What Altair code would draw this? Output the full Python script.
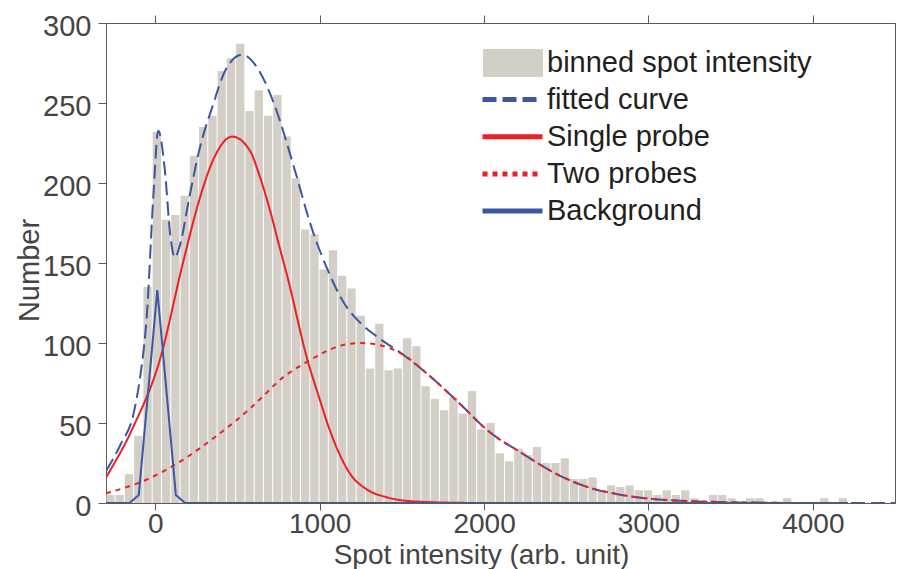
import altair as alt
import pandas as pd

FONT = "Liberation Sans"

# ---- histogram (80 bins) ----
BIN_START = -298.0
BIN_WIDTH = 56.4
counts = [5, 5, 18, 42, 135, 232, 177, 180, 192, 217,
          235, 242, 270, 278, 287, 245, 258, 242, 255, 229,
          203, 171, 168, 146, 158, 142, 134, 117, 84, 112,
          83, 84, 103, 98, 73, 65, 58, 66, 56, 70,
          46, 50, 31, 26, 34, 30, 35, 25, 25, 28,
          15, 15, 16, 8, 11, 10, 11, 8, 8, 5,
          8, 5, 8, 3, 1, 5, 5, 3, 0, 3,
          3, 0, 0, 3, 0, 0, 0, 3, 0, 3]

# ---- curves ----
fit_x = [-300, -212, -132, -92, -52, -12, 18, 58, 92, 118, 148, 208, 268, 348, 428, 528,
         628, 728, 848, 948, 1048, 1148, 1248, 1348, 1508, 1648, 1848, 2028, 2228, 2428,
         2628, 2828, 3028, 3300, 3600, 4000, 4500]
fit_y = [20, 36.4, 56, 79, 116.6, 191.6, 232.7, 208, 166.6, 153.5, 160.4, 191.6, 220.8, 247.9,
         270.8, 280.2, 270.8, 247.9, 208.3, 172.9, 145.8, 125, 112.5, 104, 92.7, 81.3, 62.5,
         44.8, 31.3, 18.8, 10, 5.2, 2.5, 1, 0.3, 0, 0]

single_x = [-300, -132, 28, 168, 268, 358, 468, 578, 628, 708, 748, 808, 928, 988, 1068,
            1188, 1288, 1408, 1546, 1800, 2000, 4214]
single_y = [16, 48, 89.6, 150, 189.6, 215.8, 229, 219.8, 206.4, 179, 163, 139.6, 88.5, 68.7,
            43.7, 17.8, 8.4, 3.6, 1.2, 0.2, 0, 0]

two_x = [-300, -32, 168, 368, 568, 688, 748, 928, 1148, 1248, 1348, 1508, 1648, 1848, 2028,
         2228, 2428, 2628, 2828, 3028, 3300, 3600, 4000, 4214]
two_y = [6, 15.6, 27, 41.6, 58.3, 70, 76, 88.5, 98.9, 100, 99, 92.7, 81.3, 62.5, 44.8,
         31.3, 18.8, 10, 5.2, 2.5, 1, 0.3, 0, 0]

bg_x = [-300, -157, -100.6, 12.2, 125, 181.4, 4214]
bg_y = [0, 0, 5, 133, 5, 0, 0]

bar_name = "binned spot intensity"
bar_color = "#d3cfc7"
line_names = ["fitted curve", "Single probe", "Two probes", "Background"]
line_colors = ["#3a56a5", "#ed1f24", "#ed1f24", "#3a56a5"]
line_dash = [[14, 6], [1, 0], [5, 5], [1, 0]]

x_ticks = [0, 1000, 2000, 3000, 4000]
y_ticks = [0, 50, 100, 150, 200, 250, 300]

# ---- tables ----
bars = pd.DataFrame({
    "start": [BIN_START + i * BIN_WIDTH for i in range(len(counts))],
    "end": [BIN_START + (i + 1) * BIN_WIDTH for i in range(len(counts))],
    "count": counts,
    "kind": bar_name,
})

rows = []
for name, xs, ys in zip(line_names, [fit_x, single_x, two_x, bg_x], [fit_y, single_y, two_y, bg_y]):
    for xv, yv in zip(xs, ys):
        rows.append({"x": xv, "y": yv, "series": name})
lines = pd.DataFrame(rows)
smooth_lines = lines[lines["series"] != "Background"]
bg_line = lines[lines["series"] == "Background"]

xscale = alt.Scale(domain=[-300, 4500], nice=False, zero=False, padding=0)
yscale = alt.Scale(domain=[0, 300], nice=False, zero=True, padding=0)
fill_scale = alt.Scale(domain=[bar_name], range=[bar_color])
color_scale = alt.Scale(domain=line_names, range=line_colors)
dash_scale = alt.Scale(domain=line_names, range=line_dash)

legend_common = dict(
    title=None, orient="none", symbolSize=3600,
    labelFontSize=29, labelFont=FONT, labelColor="#231f20", labelLimit=0,
    padding=0, symbolOpacity=1,
)
bar_legend = alt.Legend(legendX=377, legendY=10, symbolType="M-1,-0.467H1V0.467H-1Z",
                        symbolStrokeWidth=0, rowPadding=0, labelOffset=4, **legend_common)
line_legend = alt.Legend(legendX=374, legendY=62, symbolType="stroke", symbolStrokeWidth=5,
                         clipHeight=29, rowPadding=7.2, labelOffset=2, **legend_common)

axis_common = dict(grid=False, domainColor="#5a5a5a", tickColor="#5a5a5a", domainWidth=1,
                   tickWidth=1, labelFont=FONT, titleFont=FONT, labelColor="#444444",
                   titleColor="#444444", titleFontWeight="normal")

x_bottom = alt.Axis(values=x_ticks, format="d", tickSize=7, labelFontSize=28, labelPadding=0,
                    title="Spot intensity (arb. unit)", titleFontSize=28,
                    titleBaseline="alphabetic", titleY=60.5, titleX=375, **axis_common)
y_left = alt.Axis(values=y_ticks, format="d", tickSize=8, labelFontSize=29, labelPadding=7,
                  labelOffset=3, title="Number", titleFontSize=29, titleBaseline="alphabetic",
                  titleX=-68, titleY=247, **axis_common)
x_top = alt.Axis(orient="top", values=x_ticks, tickSize=8, labels=False, title=None, **axis_common)
y_right = alt.Axis(orient="right", values=y_ticks, tickSize=8, labels=False, title=None, **axis_common)

bar_layer = alt.Chart(bars).mark_bar(x2Offset=-1).encode(
    x=alt.X("start:Q", scale=xscale, axis=x_bottom),
    x2="end:Q",
    y=alt.Y("count:Q", scale=yscale, axis=y_left),
    y2=alt.datum(0),
    fill=alt.Fill("kind:N", scale=fill_scale, legend=bar_legend),
)

smooth_layer = alt.Chart(smooth_lines).mark_line(strokeWidth=2, clip=True, interpolate="monotone").encode(
    x=alt.X("x:Q", scale=xscale, axis=None),
    y=alt.Y("y:Q", scale=yscale, axis=None),
    color=alt.Color("series:N", scale=color_scale, legend=line_legend),
    strokeDash=alt.StrokeDash("series:N", scale=dash_scale, legend=line_legend),
)

bg_layer = alt.Chart(bg_line).mark_line(strokeWidth=2, clip=True).encode(
    x=alt.X("x:Q", scale=xscale, axis=None),
    y=alt.Y("y:Q", scale=yscale, axis=None),
    color=alt.Color("series:N", scale=color_scale, legend=line_legend),
    strokeDash=alt.StrokeDash("series:N", scale=dash_scale, legend=line_legend),
)

frame_layer = alt.Chart(lines).mark_line(opacity=0).encode(
    x=alt.X("x:Q", scale=xscale, axis=x_top),
    y=alt.Y("y:Q", scale=yscale, axis=y_right),
    detail="series:N",
)

chart = alt.layer(bar_layer, smooth_layer, bg_layer, frame_layer).resolve_axis(
    x="independent", y="independent"
).properties(
    width=789, height=480,
    autosize=alt.AutoSizeParams(type="none"),
    padding={"left": 98, "top": 15, "right": 1, "bottom": 66},
).configure_view(stroke=None)

chart.save("out.html", embed_options={"renderer": "svg", "actions": False})
